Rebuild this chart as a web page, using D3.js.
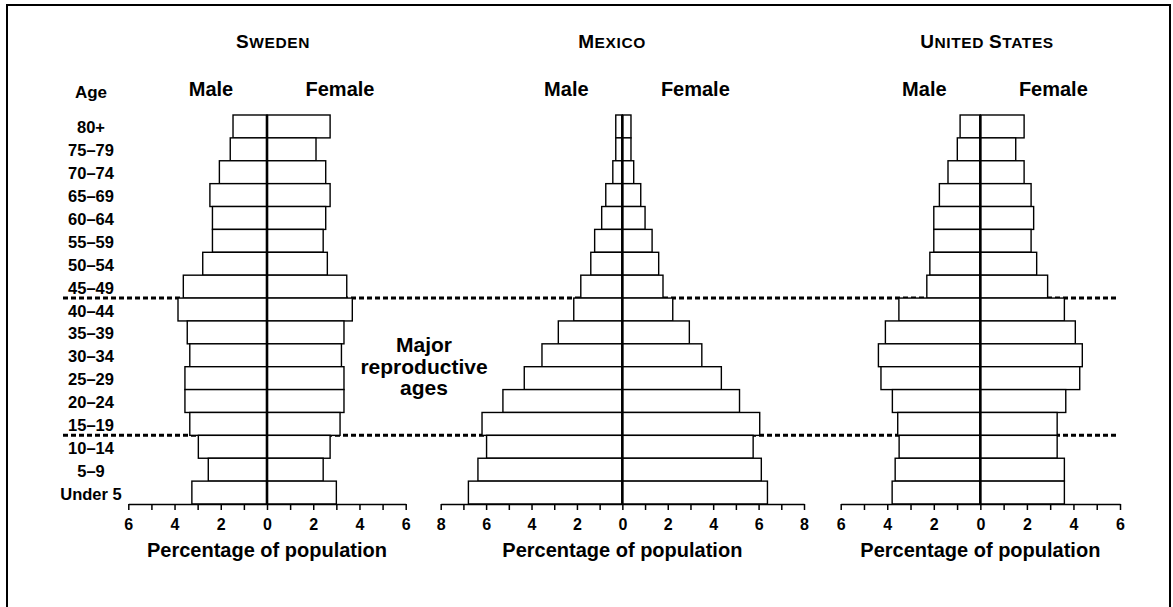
<!DOCTYPE html>
<html>
<head>
<meta charset="utf-8">
<script src="https://cdn.jsdelivr.net/npm/d3@7"></script>
<style>
  body { margin: 0; background: #fff; }
  svg { display: block; font-family: "Liberation Sans", Arial, sans-serif; }
</style>
</head>
<body>
<div id="chart"></div>
<script>
// age groups, top to bottom
const ages = ["80+", "75–79", "70–74", "65–69", "60–64", "55–59", "50–54", "45–49",
              "40–44", "35–39", "30–34", "25–29", "20–24", "15–19", "10–14", "5–9", "Under 5"];

// percentage of population per age group
const swedenMale   = [1.47, 1.59, 2.06, 2.47, 2.36, 2.36, 2.78, 3.62, 3.85, 3.45, 3.34, 3.55, 3.55, 3.34, 2.97, 2.54, 3.25];
const swedenFemale = [2.73, 2.12, 2.54, 2.73, 2.54, 2.43, 2.61, 3.45, 3.69, 3.33, 3.22, 3.33, 3.33, 3.16, 2.73, 2.43, 3.00];
const mexicoMale   = [0.29, 0.29, 0.42, 0.73, 0.91, 1.22, 1.39, 1.83, 2.14, 2.82, 3.54, 4.32, 5.26, 6.18, 5.98, 6.36, 6.78];
const mexicoFemale = [0.38, 0.38, 0.50, 0.81, 1.00, 1.31, 1.60, 1.79, 2.22, 2.95, 3.50, 4.36, 5.16, 6.05, 5.76, 6.12, 6.39];
const usMale       = [0.87, 0.99, 1.39, 1.76, 2.00, 2.00, 2.17, 2.30, 3.50, 4.08, 4.38, 4.27, 3.78, 3.55, 3.49, 3.66, 3.79];
const usFemale     = [1.88, 1.52, 1.88, 2.18, 2.29, 2.18, 2.42, 2.89, 3.61, 4.08, 4.38, 4.27, 3.67, 3.30, 3.30, 3.61, 3.61];

const countries = [
    { first: "S", rest: "WEDEN", male: swedenMale, female: swedenFemale, max: 6, range: [128.3, 405.7], titleX: 273 },
    { first: "M", rest: "EXICO", male: mexicoMale, female: mexicoFemale, max: 8, range: [440.7, 804], titleX: 612 },
    { first: "U", rest: "NITED ", first2: "S", rest2: "TATES", male: usMale, female: usFemale, max: 6, range: [840.7, 1120], titleX: 987 }
];

// reproductive ages band lies between these groups
const reproTop = "45–49";
const reproBottom = "15–19";

const width = 1173;
const height = 607;

const svg = d3.select("#chart")
    .append("svg")
    .attr("width", width)
    .attr("height", height);

// frame
svg.append("path")
    .attr("d", `M7,${height + 2} V5 H1170 V${height + 2}`)
    .attr("fill", "none")
    .attr("stroke", "#000")
    .attr("stroke-width", 2);

const y = d3.scaleBand()
    .domain(ages)
    .range([115, 504])
    .paddingInner(0);

// dotted lines marking reproductive ages (drawn behind the bars)
const dotYs = [y(reproTop) + y.bandwidth(), y(reproBottom) + y.bandwidth()];
svg.selectAll(".repro-line")
    .data(dotYs)
    .enter().append("line")
    .attr("class", "repro-line")
    .attr("x1", 63)
    .attr("x2", 1116)
    .attr("y1", d => d)
    .attr("y2", d => d)
    .attr("stroke", "#000")
    .attr("stroke-width", 3)
    .attr("stroke-dasharray", "5,3");

// age labels
svg.append("text")
    .attr("x", 91)
    .attr("y", 98)
    .attr("text-anchor", "middle")
    .attr("font-size", "17px")
    .attr("font-weight", "bold")
    .text("Age");

svg.selectAll(".age-label")
    .data(ages)
    .enter().append("text")
    .attr("class", "age-label")
    .attr("x", 91)
    .attr("y", d => y(d) + y.bandwidth() / 2 + 7)
    .attr("text-anchor", "middle")
    .attr("font-size", "16.5px")
    .attr("font-weight", "bold")
    .text(d => d);

countries.forEach(c => {
    const x = d3.scaleLinear()
        .domain([-c.max, c.max])
        .range(c.range);
    const cx = x(0);
    const g = svg.append("g");

    // title in small caps
    const title = g.append("text")
        .attr("x", c.titleX)
        .attr("y", 48)
        .attr("text-anchor", "middle")
        .attr("font-weight", "bold")
        .attr("letter-spacing", "0.6px");
    title.append("tspan").attr("font-size", "19px").text(c.first);
    title.append("tspan").attr("font-size", "15.5px").text(c.rest);
    if (c.first2) {
        title.append("tspan").attr("font-size", "19px").text(c.first2);
        title.append("tspan").attr("font-size", "15.5px").text(c.rest2);
    }

    g.append("text")
        .attr("x", cx - 56)
        .attr("y", 96)
        .attr("text-anchor", "middle")
        .attr("font-size", "20px")
        .attr("font-weight", "bold")
        .text("Male");

    g.append("text")
        .attr("x", cx + 73)
        .attr("y", 96)
        .attr("text-anchor", "middle")
        .attr("font-size", "20px")
        .attr("font-weight", "bold")
        .text("Female");

    // male bars
    g.selectAll(".male")
        .data(ages)
        .enter().append("rect")
        .attr("class", "male")
        .attr("x", (d, i) => x(-c.male[i]))
        .attr("y", d => y(d))
        .attr("width", (d, i) => cx - x(-c.male[i]))
        .attr("height", y.bandwidth())
        .attr("fill", "#fff")
        .attr("stroke", "#000")
        .attr("stroke-width", 1.4);

    // female bars
    g.selectAll(".female")
        .data(ages)
        .enter().append("rect")
        .attr("class", "female")
        .attr("x", cx)
        .attr("y", d => y(d))
        .attr("width", (d, i) => x(c.female[i]) - cx)
        .attr("height", y.bandwidth())
        .attr("fill", "#fff")
        .attr("stroke", "#000")
        .attr("stroke-width", 1.4);

    // centre line
    g.append("line")
        .attr("x1", cx)
        .attr("x2", cx)
        .attr("y1", y.range()[0])
        .attr("y2", y.range()[1])
        .attr("stroke", "#000")
        .attr("stroke-width", 2.6);

    // x axis
    const axis = d3.axisBottom(x)
        .tickValues(d3.range(-c.max, c.max + 1))
        .tickSizeInner(6)
        .tickSizeOuter(0)
        .tickPadding(9)
        .tickFormat(d => d % 2 === 0 ? Math.abs(d) : "");

    const ax = g.append("g")
        .attr("transform", `translate(0, ${y.range()[1]})`)
        .call(axis);
    ax.select(".domain").attr("stroke-width", 1.5);
    ax.selectAll(".tick line").attr("stroke-width", 1.5);
    ax.selectAll(".tick text")
        .attr("font-family", "Liberation Sans, Arial, sans-serif")
        .attr("font-size", "16px")
        .attr("font-weight", "bold")
        .attr("fill", "#000");

    g.append("text")
        .attr("x", cx)
        .attr("y", 557)
        .attr("text-anchor", "middle")
        .attr("font-size", "20px")
        .attr("font-weight", "bold")
        .text("Percentage of population");
});

// annotation between the reproductive-age lines
const note = svg.append("text")
    .attr("x", 424)
    .attr("text-anchor", "middle")
    .attr("font-size", "21px")
    .attr("font-weight", "bold");
["Major", "reproductive", "ages"].forEach((line, i) => {
    note.append("tspan")
        .attr("x", 424)
        .attr("y", 352 + i * 21.5)
        .text(line);
});
</script>
</body>
</html>
